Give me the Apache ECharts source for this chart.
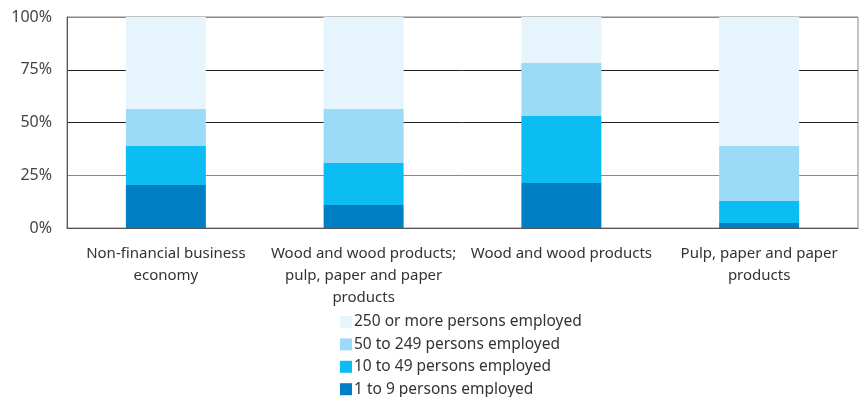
<!DOCTYPE html>
<html>
<head>
<meta charset="utf-8">
<script src="https://cdn.jsdelivr.net/npm/echarts@6/dist/echarts.min.js"></script>
<style>html,body{margin:0;padding:0;background:#fff}#c{width:859px;height:397px}</style>
</head>
<body>
<div id="c"></div>
<script>
var categories = ["Non-financial business\neconomy", "Wood and wood products;\npulp, paper and paper\nproducts", "Wood and wood products", "Pulp, paper and paper\nproducts"];
var seriesNames = ["1 to 9 persons employed", "10 to 49 persons employed", "50 to 249 persons employed", "250 or more persons employed"];
var s1to9 = [20.4, 10.9, 21.3, 2.4];
var s10to49 = [18.5, 19.9, 31.8, 10.4];
var s50to249 = [17.5, 25.6, 25.1, 26.1];
var s250plus = [43.6, 43.6, 21.8, 61.1];
var yTicks = [0, 25, 50, 75, 100];

var colors = ["#007fc5", "#0bbdf2", "#9cdbf8", "#e6f5fd"];
var values = [s1to9, s10to49, s50to249, s250plus];
var font = "Noto Sans";

var chart = echarts.init(document.getElementById('c'), null, {renderer: 'canvas'});
chart.setOption({
  animation: false,
  backgroundColor: '#fff',
  grid: {left: 67, right: 1, top: 17, bottom: 169, show: true, borderColor: '#888', borderWidth: 1},
  legend: {
    orient: 'vertical', left: 340, top: 314, padding: 0, height: 100,
    itemWidth: 12, itemHeight: 12, itemGap: 6.4,
    data: seriesNames.slice().reverse(),
    textStyle: {fontFamily: font, fontSize: 15.5, color: '#333', padding: [0,0,0,-3]},
    icon: 'rect'
  },
  xAxis: {
    type: 'category', data: categories,
    axisLine: {show: true, lineStyle: {color: '#555', width: 1}},
    axisTick: {show: false},
    axisLabel: {interval: 0, margin: 15, fontFamily: font, fontSize: 15, color: '#333', lineHeight: 22}
  },
  yAxis: {
    type: 'value', min: 0, max: 100, interval: 25,
    axisLine: {show: true, lineStyle: {color: '#555', width: 1}},
    axisTick: {show: false},
    splitLine: {show: true, lineStyle: {color: ['#555', '#888', '#222', '#222', '#888'], width: 1}},
    axisLabel: {margin: 15, fontFamily: font, fontSize: 16, color: '#444', formatter: function(v){ return yTicks.indexOf(v) >= 0 ? v + '%' : ''; }}
  },
  series: seriesNames.map(function(n, i){
    return {name: n, type: 'bar', stack: 'all', data: values[i], barWidth: 80,
      itemStyle: {color: colors[i]}};
  })
});
</script>
</body>
</html>
